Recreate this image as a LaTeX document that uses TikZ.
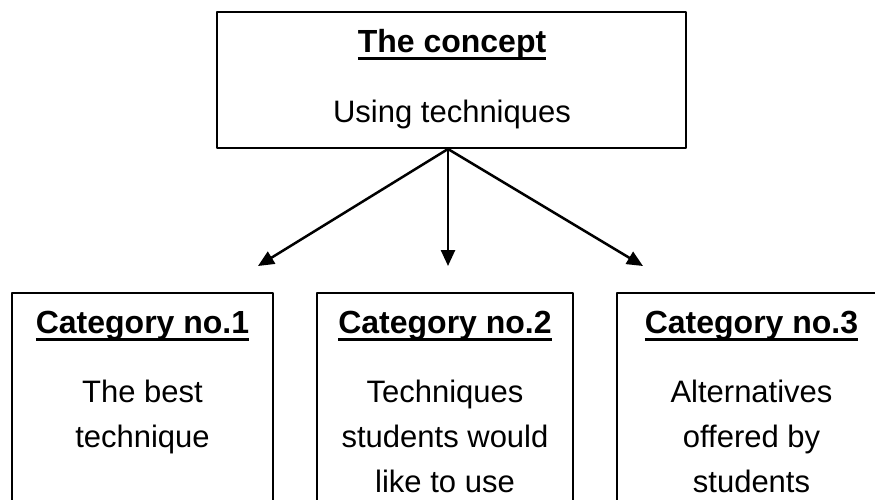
\documentclass[tikz,border=0pt]{standalone}
\usepackage{fontspec}
\setmainfont{Liberation Sans}
\usetikzlibrary{arrows.meta}
\newsavebox\headbox
\newcommand\ulhead[1]{\sbox\headbox{\bfseries #1}\rlap{\rule[-8pt]{\wd\headbox}{3.5pt}}\usebox\headbox}
\tikzset{
  catbox/.style={draw,line width=2pt,inner sep=0pt},
  headtxt/.style={anchor=base,inner sep=0pt,font=\fontsize{32}{40}\selectfont},
  bodytxt/.style={anchor=base,inner sep=0pt,align=center,font=\fontsize{31}{45}\selectfont}
}
\begin{document}
\begin{tikzpicture}[x=1pt,y=-1pt,>={Triangle[length=16pt,width=14pt]},line join=round]
 \clip (0,0) rectangle (875,499);
 % the concept
 \node[catbox,minimum width=469pt,minimum height=136pt] (concept) at (451.5,80) {};
 \node[headtxt] (concepthead) at (452,52) {\ulhead{The concept}};
 \node[bodytxt] (conceptbody) at (452,122) {Using techniques};
 % the three categories
 \node[catbox,minimum width=261pt,minimum height=240pt] (cat1) at (142.5,413) {};
 \node[catbox,minimum width=256pt,minimum height=240pt] (cat2) at (445,413) {};
 \node[catbox,minimum width=269pt,minimum height=240pt] (cat3) at (751.5,413) {};
 \node[headtxt] (head1) at (142.5,333) {\ulhead{Category no.1}};
 \node[headtxt] (head2) at (445,333) {\ulhead{Category no.2}};
 \node[headtxt] (head3) at (751.5,333) {\ulhead{Category no.3}};
 \node[bodytxt] (body1) at (142.5,447) {The best\\technique};
 \node[bodytxt] (body2) at (445,492) {Techniques\\students would\\like to use};
 \node[bodytxt] (body3) at (751.5,492) {Alternatives\\offered by\\students};
 % arrows
 \coordinate (tip1) at (258,266);
 \coordinate (tip2) at (448,266);
 \coordinate (tip3) at (643,266);
 \coordinate (root) at (concept.south -| tip2);
 \foreach \t in {tip1,tip2,tip3}
   \draw[->,line width=2.5pt] (root) -- (\t);
\end{tikzpicture}
\end{document}
